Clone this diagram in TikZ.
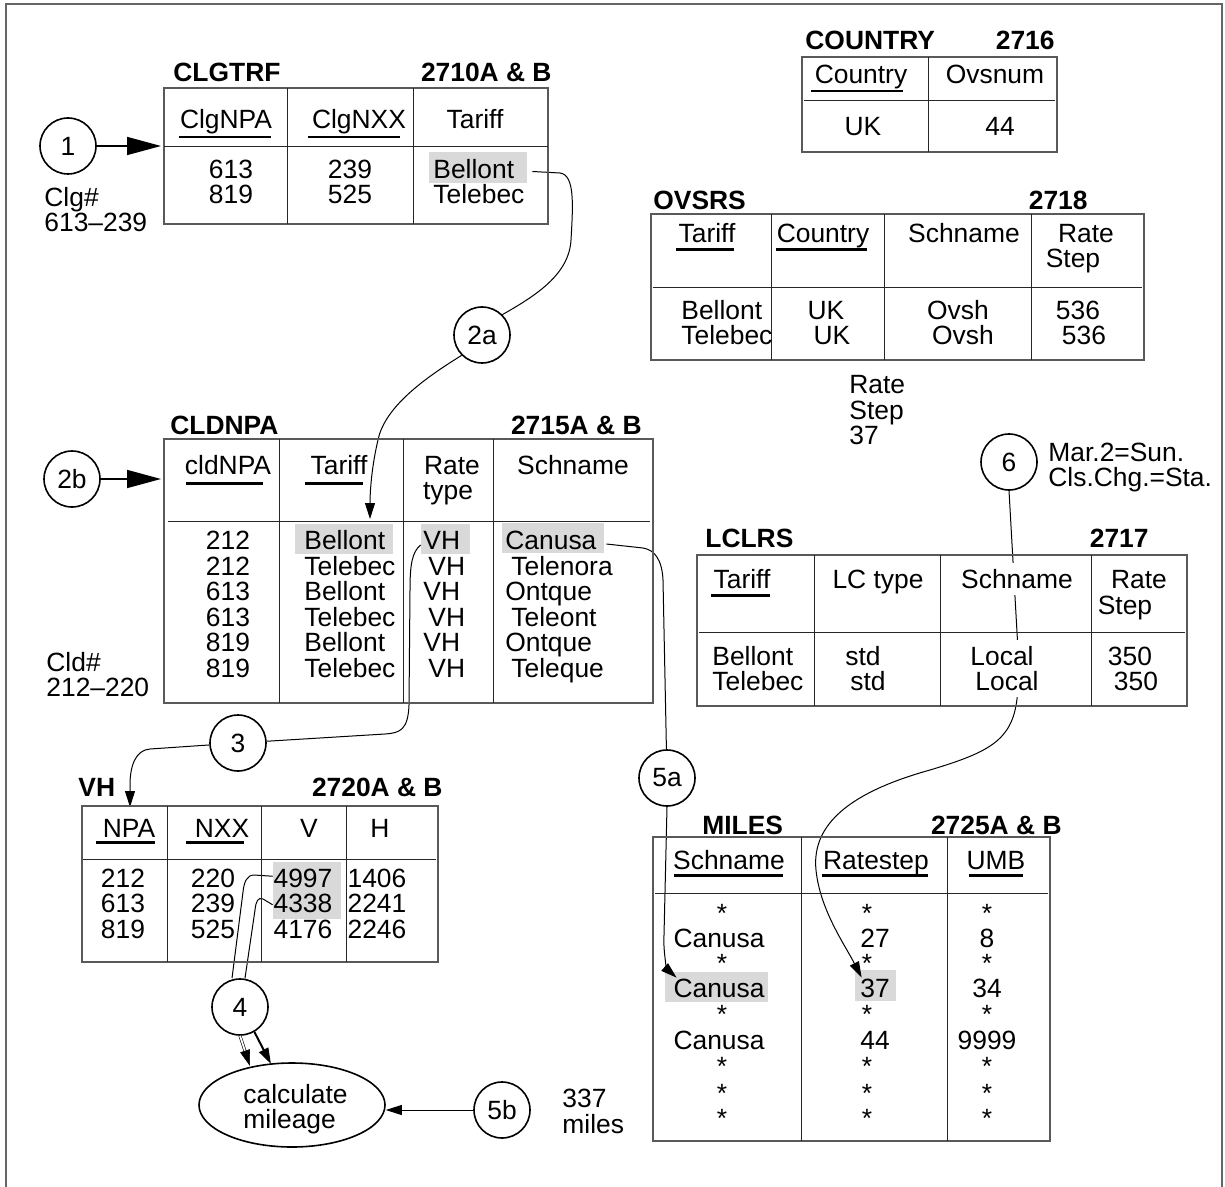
\documentclass[tikz,border=0pt]{standalone}
\usepackage{fontspec}
\setmainfont{Liberation Sans}
\usetikzlibrary{arrows.meta,shapes.geometric}
\newcommand{\fsz}{\fontsize{13.2pt}{12.8pt}\selectfont}
\begin{document}
\begin{tikzpicture}[x=0.5pt,y=-0.5pt,
 txt/.style={inner sep=0pt,font=\fsz},
 ttl/.style={inner sep=0pt,font=\fsz\bfseries},
 tbl/.style={draw=black!65,line width=0.8pt},
 rul/.style={line width=0.5pt,black!85},
 ul/.style={line width=1.1pt},
 circ/.style={circle,draw,line width=0.8pt,minimum size=28pt,inner sep=0pt,font=\fsz},
 hl/.style={fill=black!15,inner sep=0pt},
 conn/.style={line width=0.5pt},
 tip/.style={-{Triangle[length=8pt,width=5pt]}},
 bigtip/.style={line width=0.8pt,-{Triangle[length=17pt,width=9pt]}},
 knock/.style={fill=white,inner xsep=1pt,inner ysep=3pt},
]
\useasboundingbox (0,0) rectangle (1225,1187);
\draw[black!60,line width=0.7pt] (6,1187) -- (6,4) -- (1222,4) -- (1222,1187);

% ---------- highlights ----------
\node[hl,minimum width=49pt,minimum height=15.5pt] (hlBel) at (478,167.5) {};
\node[hl,minimum width=49pt,minimum height=15pt] (hlBel2) at (344,539) {};
\node[hl,minimum width=24.5pt,minimum height=15pt] (hlVH) at (445.5,539) {};
\node[hl,minimum width=51pt,minimum height=15pt] (hlCan) at (553,538) {};
\node[hl,minimum width=34pt,minimum height=14.25pt] (hlV1) at (307,876.25) {};
\node[hl,minimum width=34pt,minimum height=14.25pt] (hlV2) at (307,904.75) {};
\node[hl,minimum width=51.5pt,minimum height=15pt] (hlMC) at (716.5,987) {};
\node[hl,minimum width=20.5pt,minimum height=15.5pt] (hl37) at (875.5,985.5) {};

% ---------- circles ----------
\node[circ] (c1) at (68,146) {1};
\node[circ] (c2a) at (482,335) {2a};
\node[circ] (c2b) at (72,479) {2b};
\node[circ] (c3) at (238,743) {3};
\node[circ] (c4) at (240,1007) {4};
\node[circ] (c5a) at (667,778) {5a};
\node[circ] (c5b) at (502,1110) {5b};
\node[circ] (c6) at (1009,462) {6};
\node[ellipse,draw,line width=0.8pt,minimum width=93pt,minimum height=42pt,inner sep=0pt] (ell) at (292,1105) {};

% ---------- connector end points ----------
\coordinate (clgIn) at (161,146);
\coordinate (cldIn) at (161,479);
\coordinate (tarIn) at (370,519);
\coordinate (npaIn) at (130,807);
\coordinate (ellA) at (250,1066);
\coordinate (ellB) at (271,1064);

% ---------- connectors ----------
\draw[bigtip] (c1) -- (clgIn);
\draw[bigtip] (c2b) -- (cldIn);
\draw[conn] ([xshift=2.5pt,yshift=-2pt]hlBel.east) -- (560,173) .. controls (575,175) and (573,205) .. (571,240) .. controls (569,275) and (535,296) .. (c2a.north east);
\draw[conn,tip] (c2a.south west) .. controls (430,375) and (385,405) .. (378,440) .. controls (372,465) and (370,490) .. (tarIn);
\draw[conn] ([yshift=-3pt]hlVH.west) .. controls (412,552) and (410,565) .. (410,590) -- (409,705) .. controls (408,730) and (400,733) .. (385,734) -- (c3);
\draw[conn,tip] (c3) -- (150,749) .. controls (136,750) and (130,765) .. (130,785) -- (npaIn);
\draw[conn] (hlV1.west) -- (254,875) .. controls (247,875) and (244,882) .. (243,892) -- ([xshift=-4pt]c4.north);
\draw[conn] (hlV2.west) -- (263,899) .. controls (258,897) and (256,901) .. (255,910) -- ([xshift=2.5pt]c4.north);
\draw[line width=0.3pt,double=white,double distance=0.9pt,tip] (c4.south) -- (ellA);
\draw[line width=1pt,tip] (c4.-60) -- (ellB);
\draw[conn,tip] (c5b.west) -- (ell.east |- c5b.west);
\draw[conn] ([xshift=1pt,yshift=-3pt]hlCan.east) -- (643,548) .. controls (655,550) and (662,560) .. (663,580) -- (c5a);
\draw[conn,tip] (c5a.south) -- (664,935) .. controls (663,955) and (668,970) .. ([xshift=6pt,yshift=-3pt]hlMC.north west);
\draw[conn,tip] (c6.south) -- (1018,650) -- (1017,699) .. controls (1012,740) and (990,752) .. (930,770) .. controls (840,795) and (812,830) .. (816,870) .. controls (820,910) and (845,945) .. ([xshift=3.5pt,yshift=-4pt]hl37.north west);

% ---------- CLGTRF ----------
\node[ttl,anchor=base west] (clgT) at (173,82) {CLGTRF};
\node[ttl,anchor=base east] (clgN) at (552,82) {2710A \& B};
\draw[tbl] (164,88) rectangle (548,224);
\draw[rul] (164,147) -- (548,147) (287,88) -- (287,224) (413,88) -- (413,224);
\node[txt,anchor=base] (clgH1) at (226,128.5) {ClgNPA};
\node[txt,anchor=base] (clgH2) at (359,128.5) {ClgNXX};
\node[txt,anchor=base] (clgH3) at (475,128.5) {Tariff};
\draw[ul] (179,137) -- (271,137) (308,137) -- (400,137);
\node[txt,anchor=base] (clgA1) at (231,178.5) {613};
\node[txt,anchor=base] (clgA2) at (231,204) {819};
\node[txt,anchor=base] (clgB1) at (350,178.5) {239};
\node[txt,anchor=base] (clgB2) at (350,204) {525};
\node[txt,anchor=base west] (clgC1) at (433,178.5) {Bellont};
\node[txt,anchor=base west] (clgC2) at (433,204) {Telebec};
\node[txt,anchor=base west] (clgL1) at (44,206.5) {Clg\#};
\node[txt,anchor=base west] (clgL2) at (44,232) {613--239};

% ---------- COUNTRY ----------
\node[ttl,anchor=base west] (coT) at (805,49.5) {COUNTRY};
\node[ttl,anchor=base east] (coN) at (1055,49.5) {2716};
\draw[tbl] (802,57) rectangle (1057,152);
\draw[rul] (804,101) -- (1055,101) (928,57) -- (928,152);
\node[txt,anchor=base] (coH1) at (861,84) {Country};
\node[txt,anchor=base] (coH2) at (995,84) {Ovsnum};
\draw[ul] (811,91) -- (903,91);
\node[txt,anchor=base] (coA) at (863,135.5) {UK};
\node[txt,anchor=base] (coB) at (1000,135.5) {44};

% ---------- OVSRS ----------
\node[ttl,anchor=base west] (ovT) at (653,209.5) {OVSRS};
\node[ttl,anchor=base east] (ovN) at (1088,209.5) {2718};
\draw[tbl] (651,214) rectangle (1144,360);
\draw[rul] (653,288) -- (1142,288) (771,214) -- (771,360) (884,214) -- (884,360) (1031,214) -- (1031,360);
\node[txt,anchor=base] (ovH1) at (707,242.5) {Tariff};
\node[txt,anchor=base] (ovH2) at (823,242.5) {Country};
\node[txt,anchor=base] (ovH3) at (964,242.5) {Schname};
\node[txt,anchor=base] (ovH4) at (1086,242.5) {Rate};
\node[txt,anchor=base] (ovH5) at (1073,268) {Step};
\draw[ul] (676,249.5) -- (734,249.5) (776,249.5) -- (867,249.5);
\node[txt,anchor=base west] (ovA1) at (681,319.5) {Bellont};
\node[txt,anchor=base west] (ovA2) at (681,345) {Telebec};
\node[txt,anchor=base] (ovB1) at (826,319.5) {UK};
\node[txt,anchor=base] (ovB2) at (832,345) {UK};
\node[txt,anchor=base] (ovC1) at (958,319.5) {Ovsh};
\node[txt,anchor=base] (ovC2) at (963,345) {Ovsh};
\node[txt,anchor=base] (ovD1) at (1078,319.5) {536};
\node[txt,anchor=base] (ovD2) at (1084,345) {536};
\node[txt,anchor=base west] (rs1) at (849,393.5) {Rate};
\node[txt,anchor=base west] (rs2) at (849,419.5) {Step};
\node[txt,anchor=base west] (rs3) at (849,444.5) {37};

% ---------- note 6 ----------
\node[txt,anchor=base west] (m1) at (1048,461.5) {Mar.2=Sun.};
\node[txt,anchor=base west] (m2) at (1048,486.5) {Cls.Chg.=Sta.};

% ---------- LCLRS ----------
\node[ttl,anchor=base west] (lcT) at (705,547.5) {LCLRS};
\node[ttl,anchor=base east] (lcN) at (1149,547.5) {2717};
\draw[tbl] (697,555) rectangle (1187,706);
\draw[rul] (699,632) -- (1185,632) (814,555) -- (814,706) (940,555) -- (940,706) (1091,555) -- (1091,706);
\node[txt,anchor=base] (lcH1) at (742,588.5) {Tariff};
\node[txt,anchor=base] (lcH2) at (878,588.5) {LC type};
\node[txt,knock,anchor=base] (lcH3) at (1017,588.5) {Schname};
\node[txt,anchor=base] (lcH4) at (1139,588.5) {Rate};
\node[txt,anchor=base] (lcH5) at (1125,614) {Step};
\draw[ul] (711,595.5) -- (770,595.5);
\node[txt,anchor=base west] (lcA1) at (712,665.5) {Bellont};
\node[txt,anchor=base west] (lcA2) at (712,690.5) {Telebec};
\node[txt,anchor=base] (lcB1) at (863,665.5) {std};
\node[txt,anchor=base] (lcB2) at (868,690.5) {std};
\node[txt,knock,anchor=base] (lcC1) at (1002,665.5) {Local};
\node[txt,knock,anchor=base] (lcC2) at (1007,690.5) {Local};
\node[txt,anchor=base] (lcD1) at (1130,665.5) {350};
\node[txt,anchor=base] (lcD2) at (1136,690.5) {350};

% ---------- CLDNPA ----------
\node[ttl,anchor=base west] (cdT) at (170,434.5) {CLDNPA};
\node[ttl,anchor=base east] (cdN) at (642,434.5) {2715A \& B};
\draw[tbl] (164,439) rectangle (653,703);
\draw[rul] (168,521) -- (650,521) (279,439) -- (279,703) (403,439) -- (403,703) (493,439) -- (493,703);
\node[txt,anchor=base] (cdH1) at (228,474.5) {cldNPA};
\node[txt,anchor=base] (cdH2) at (339,474.5) {Tariff};
\node[txt,anchor=base] (cdH3) at (452,474.5) {Rate};
\node[txt,anchor=base] (cdH4) at (448,499.5) {type};
\node[txt,anchor=base] (cdH5) at (573,474.5) {Schname};
\draw[ul] (186,483.5) -- (263,483.5) (305,483.5) -- (363,483.5);
\foreach \a/\b/\c/\d/\e [count=\k] in {212/Bellont/423/Canusa/505, 212/Telebec/428/Telenora/511, 613/Bellont/423/Ontque/505, 613/Telebec/428/Teleont/511, 819/Bellont/423/Ontque/505, 819/Telebec/428/Teleque/511}{
  \node[txt,anchor=base] (cdA\k) at (228,{549.5+25.6*(\k-1)}) {\a};
  \node[txt,anchor=base west] (cdB\k) at (304,{549.5+25.6*(\k-1)}) {\b};
  \node[txt,anchor=base west] (cdC\k) at (\c,{549.5+25.6*(\k-1)}) {VH};
  \node[txt,anchor=base west] (cdD\k) at (\e,{549.5+25.6*(\k-1)}) {\d};
}
\node[txt,anchor=base west] (cdL1) at (46,671.5) {Cld\#};
\node[txt,anchor=base west] (cdL2) at (46,696.5) {212--220};

% ---------- VH ----------
\node[ttl,anchor=base west] (vhT) at (78,796.5) {VH};
\node[ttl,anchor=base east] (vhN) at (443,796.5) {2720A \& B};
\draw[tbl] (82,806) rectangle (438,962);
\draw[rul] (83,859) -- (436,859) (167,806) -- (167,962) (261,806) -- (261,962) (346,806) -- (346,962);
\node[txt,anchor=base] (vhH1) at (129,837.5) {NPA};
\node[txt,anchor=base] (vhH2) at (222,837.5) {NXX};
\node[txt,anchor=base] (vhH3) at (309,837.5) {V};
\node[txt,anchor=base] (vhH4) at (380,837.5) {H};
\draw[ul] (96,842.5) -- (155,842.5) (186,842.5) -- (244,842.5);
\foreach \a/\b/\c/\d [count=\k] in {212/220/4997/1406, 613/239/4338/2241, 819/525/4176/2246}{
  \node[txt,anchor=base] (vhA\k) at (123,{887.5+25.3*(\k-1)}) {\a};
  \node[txt,anchor=base] (vhB\k) at (213,{887.5+25.3*(\k-1)}) {\b};
  \node[txt,anchor=base] (vhC\k) at (303,{887.5+25.3*(\k-1)}) {\c};
  \node[txt,anchor=base] (vhD\k) at (377,{887.5+25.3*(\k-1)}) {\d};
}

% ---------- ellipse text, 5b note ----------
\node[txt,anchor=base west] (e1) at (243,1103) {calculate};
\node[txt,anchor=base west] (e2) at (243,1128) {mileage};
\node[txt,anchor=base west] (mi1) at (562,1107.5) {337};
\node[txt,anchor=base west] (mi2) at (562,1133) {miles};

% ---------- MILES ----------
\node[ttl,anchor=base west] (miT) at (702,834.5) {MILES};
\node[ttl,anchor=base east] (miN) at (1062,834.5) {2725A \& B};
\draw[tbl] (653,837) rectangle (1050,1141);
\draw[rul] (655,893) -- (1048,893) (801,837) -- (801,1141) (947,837) -- (947,1141);
\node[txt,anchor=base] (miH1) at (729,869.5) {Schname};
\node[txt,anchor=base] (miH2) at (876,869.5) {Ratestep};
\node[txt,anchor=base] (miH3) at (996,869.5) {UMB};
\draw[ul] (674,875.5) -- (783,875.5) (822,875.5) -- (928,875.5) (969,875.5) -- (1023,875.5);
\foreach \y/\b/\c [count=\k] in {947.5/27/8, 997.5/37/34, 1049.5/44/9999}{
  \node[txt,anchor=base] (miA\k) at (719,\y) {Canusa};
  \node[txt,anchor=base] (miB\k) at (875,\y) {\b};
  \node[txt,anchor=base] (miC\k) at (987,\y) {\c};
}
\foreach \y [count=\k] in {922,972,1023,1075,1102,1127}{
  \node[txt,anchor=base] (sA\k) at (722,\y) {*};
  \node[txt,anchor=base] (sB\k) at (867,\y) {*};
  \node[txt,anchor=base] (sC\k) at (987,\y) {*};
}
\end{tikzpicture}
\end{document}
